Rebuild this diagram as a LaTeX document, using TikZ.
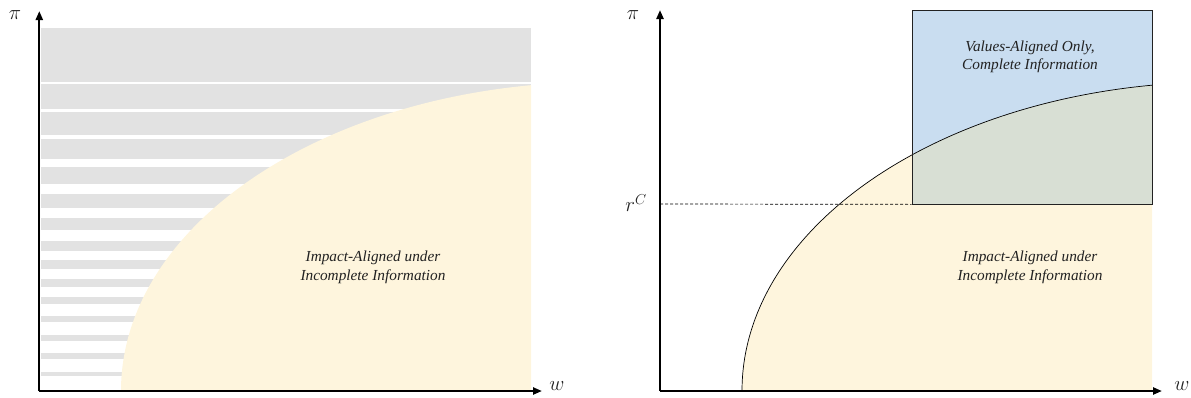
\documentclass[tikz,border=0pt]{standalone}
\usepackage{fontspec}
\setmainfont{Liberation Serif}
\usetikzlibrary{arrows.meta}
\definecolor{stripe}{HTML}{E2E2E2}
\definecolor{sand}{HTML}{FEF5DD}
\definecolor{skyb}{HTML}{C9DDF0}
\definecolor{mixc}{HTML}{D8DFD4}
\definecolor{txt}{HTML}{222222}
\tikzset{
  axis/.style={line width=2.2pt,-{Triangle[length=9pt,width=7pt]}},
  region/.style={font=\itshape\fontsize{15.3}{18.5}\selectfont,text=txt,align=center},
  axlabel/.style={font=\fontsize{20}{22}\selectfont,text=txt},
}
\begin{document}
\begin{tikzpicture}[x=1pt,y=-1pt]
\useasboundingbox (0,0) rectangle (1191,397);
% ---------- left panel ----------
\foreach \a/\b in {27.7/81.7,83.9/108.9,112/135,138.9/159,166.8/184,194/208,218/230,240.7/250.7,260/268.5,279/286.7,297.2/304,316.4/321.9,335.2/340.9,353.2/359,372/375.8}{
  \fill[stripe] (41,\a) rectangle (531,\b);
}
\begin{scope}
  \clip (39,0) rectangle (531,391);
  \fill[sand] (600,391) ellipse [x radius=479, y radius=309];
\end{scope}
\node[region] (impL) at (373,267.5) {Impact-Aligned under\\Incomplete Information};
\coordinate (oL) at (39.3,391);
\coordinate (yL) at (39.3,11);
\coordinate (xL) at (542,391);
\draw[axis] (oL) -- (yL);
\draw[axis] (oL) -- (xL);
\node[axlabel] (piL) at (15,15) {$\pi$};
\node[axlabel] (wL) at (557,386) {$w$};
% ---------- right panel ----------
\begin{scope}
  \clip (660,0) rectangle (1152,391);
  \fill[sand] (1221,391) ellipse [x radius=479, y radius=309];
\end{scope}
\fill[skyb] (912,10) rectangle (1152,204);
\begin{scope}
  \clip (912,10) rectangle (1152,204);
  \fill[mixc] (1221,391) ellipse [x radius=479, y radius=309];
\end{scope}
\begin{scope}
  \clip (660,0) rectangle (1152,391);
  \draw[line width=0.7pt] (1221,391) ellipse [x radius=479, y radius=309];
\end{scope}
\node[draw=txt,line width=0.7pt,minimum width=240pt,minimum height=194pt,inner sep=0pt] (box) at (1032,107) {};
\coordinate (oR) at (660,391);
\coordinate (yR) at (660,10);
\coordinate (xR) at (1162,391);
\coordinate (rc) at (660,204);
\draw[dashed,line width=0.7pt,dash pattern=on 3pt off 2pt] (rc) -- (box.south west);
\node[region] (vals) at (1030,57) {Values-Aligned Only,\\Complete Information};
\node[region] (impR) at (1030,267.5) {Impact-Aligned under\\Incomplete Information};
\draw[axis] (oR) -- (yR);
\draw[axis] (oR) -- (xR);
\node[axlabel] (piR) at (633,15) {$\pi$};
\node[axlabel] (wR) at (1182,386) {$w$};
\node[axlabel] (rC) at (636,203) {$r^{C}$};
\end{tikzpicture}
\end{document}
